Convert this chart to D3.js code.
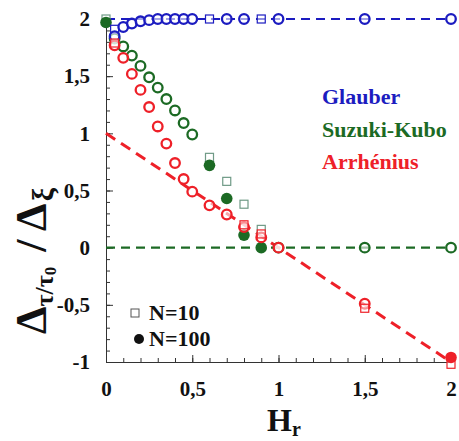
<!DOCTYPE html>
<html><head><meta charset="utf-8">
<script src="https://cdn.jsdelivr.net/npm/d3@7"></script>
<style>body{margin:0;background:#fff} svg{display:block}</style>
</head><body>
<script>
// ---- data ----
const xMajorTicks = [0, 0.5, 1, 1.5, 2];
const yMajorTicks = [-1, -0.5, 0, 0.5, 1, 1.5, 2];

const glauberCircX = [0.05,0.1,0.15,0.2,0.25,0.3,0.35,0.4,0.45,0.5,0.7,0.8,1.0,1.5,2.0];
const glauberCircY = [1.85,1.93,1.96,1.98,1.99,2,2,2,2,2,2,2,2,2,2];
const glauberSqX = [0.05,0.6,0.9];
const glauberSqY = [1.91,2,2];
const glauberLineX = [0,2];
const glauberLineY = [2,2];

const suzukiCircX = [0.05,0.1,0.15,0.2,0.25,0.3,0.35,0.4,0.45,0.5,1.0,1.5,2.0];
const suzukiCircY = [1.83,1.76,1.68,1.59,1.49,1.40,1.30,1.20,1.09,0.99,0,0,0];
const suzukiSqX = [0,0.05,0.6,0.7,0.8,0.9];
const suzukiSqY = [2.0,1.85,0.79,0.58,0.38,0.16];
const suzukiDotX = [0,0.6,0.7,0.8,0.9];
const suzukiDotY = [1.97,0.72,0.43,0.11,0.0];
const suzukiLineX = [0,2];
const suzukiLineY = [0,0];

const arrCircX = [0.05,0.1,0.15,0.2,0.25,0.3,0.35,0.4,0.45,0.5,0.6,0.7,0.8,0.9,1.0,1.5];
const arrCircY = [1.77,1.66,1.52,1.38,1.23,1.06,0.91,0.74,0.60,0.49,0.37,0.29,0.18,0.09,0.0,-0.49];
const arrSqX = [0.05,0.8,0.9,1.5,2.0];
const arrSqY = [1.79,0.2,0.12,-0.53,-1.02];
const arrDotX = [2.0];
const arrDotY = [-0.96];
const arrLineX = [0,2];
const arrLineY = [1,-1];

const seriesNames = ["Glauber","Suzuki-Kubo","Arrhénius"];
const legendN = ["N=10","N=100"];

// ---- styles ----
const BLUE = "#1c1cc0", GREEN = "#1c6a24", RED = "#ee2028";
const SQ_GREEN = "#6f9a86";
const FONT = "'Liberation Serif','Times New Roman',serif";

const W = 459, H = 441;
const svg = d3.select("body").append("svg").attr("width", W).attr("height", H)
  .style("font-family", FONT).style("font-weight", "bold");

const x = d3.scaleLinear().domain([0, 2]).range([106, 451]);
const y = d3.scaleLinear().domain([-1, 2]).range([362, 19]);

const zip = (a, b) => a.map((v, i) => [v, b[i]]);
const fmt = d => String(d).replace(".", ",");

// axes
const xMinor = d3.range(0, 2.0001, 0.1).map(v => +v.toFixed(2));
const yMinor = d3.range(-1, 2.0001, 0.1).map(v => +v.toFixed(2));

const gx = svg.append("g").attr("transform", `translate(0,${y(-1)})`);
gx.call(d3.axisBottom(x).tickValues(xMinor).tickSize(-4).tickFormat("").tickSizeOuter(0));
gx.append("g").call(d3.axisBottom(x).tickValues(xMajorTicks).tickSize(-7).tickSizeOuter(0).tickFormat(fmt).tickPadding(19));
gx.selectAll("path").attr("stroke", "#333");
gx.selectAll("line").attr("stroke", "#333");
gx.selectAll("text").attr("font-family", FONT).attr("font-weight", "bold").attr("font-size", 21).attr("fill", "#111");

const gy = svg.append("g").attr("transform", `translate(${x(0)},0)`);
gy.call(d3.axisLeft(y).tickValues(yMinor).tickSize(-4).tickFormat("").tickSizeOuter(0));
gy.append("g").call(d3.axisLeft(y).tickValues(yMajorTicks).tickSize(-7).tickSizeOuter(0).tickFormat(fmt).tickPadding(16));
gy.selectAll("path").attr("stroke", "#333");
gy.selectAll("line").attr("stroke", "#333");
gy.selectAll("text").attr("font-family", FONT).attr("font-weight", "bold").attr("font-size", 21).attr("fill", "#111");

// lines
const line = d3.line().x(d => x(d[0])).y(d => y(d[1]));
svg.append("path").attr("d", line(zip(suzukiLineX, suzukiLineY))).attr("fill", "none")
  .attr("stroke", GREEN).attr("stroke-width", 2.2).attr("stroke-dasharray", "9,6");
svg.append("path").attr("d", line(zip(glauberLineX, glauberLineY))).attr("fill", "none")
  .attr("stroke", BLUE).attr("stroke-width", 2).attr("stroke-dasharray", "9,6");
svg.append("path").attr("d", line(zip(arrLineX, arrLineY))).attr("fill", "none")
  .attr("stroke", RED).attr("stroke-width", 3).attr("stroke-dasharray", "11,7");

// markers
function circles(xs, ys, color) {
  svg.append("g").selectAll("circle").data(zip(xs, ys)).join("circle")
    .attr("cx", d => x(d[0])).attr("cy", d => y(d[1])).attr("r", 4.8)
    .attr("fill", "white").attr("fill-opacity", 0.6).attr("stroke", color).attr("stroke-width", 2.3);
}
function squares(xs, ys, color) {
  svg.append("g").selectAll("rect").data(zip(xs, ys)).join("rect")
    .attr("x", d => x(d[0]) - 4).attr("y", d => y(d[1]) - 4).attr("width", 8).attr("height", 8)
    .attr("fill", "white").attr("fill-opacity", 0.5).attr("stroke", color).attr("stroke-width", 1.2);
}
function dots(xs, ys, color) {
  svg.append("g").selectAll("circle").data(zip(xs, ys)).join("circle")
    .attr("cx", d => x(d[0])).attr("cy", d => y(d[1])).attr("r", 5.8).attr("fill", color);
}

squares(suzukiSqX, suzukiSqY, SQ_GREEN);
circles(suzukiCircX, suzukiCircY, GREEN);
dots(suzukiDotX, suzukiDotY, GREEN);
squares(glauberSqX, glauberSqY, BLUE);
circles(glauberCircX, glauberCircY, BLUE);
circles(arrCircX, arrCircY, RED);
squares(arrSqX, arrSqY, RED);
dots(arrDotX, arrDotY, RED);

// series legend
const legColors = [BLUE, GREEN, RED];
const legBase = [104, 137, 169];
seriesNames.forEach((n, i) => {
  svg.append("text").attr("x", 322).attr("y", legBase[i]).attr("font-size", 22)
    .attr("fill", legColors[i]).text(n);
});

// N legend
svg.append("rect").attr("x", 131).attr("y", 309).attr("width", 8).attr("height", 8)
  .attr("fill", "white").attr("stroke", "#555").attr("stroke-width", 1);
svg.append("text").attr("x", 149).attr("y", 320).attr("font-size", 22).attr("fill", "#111").text(legendN[0]);
svg.append("circle").attr("cx", 139).attr("cy", 339).attr("r", 5).attr("fill", "#111");
svg.append("text").attr("x", 149).attr("y", 346).attr("font-size", 22).attr("fill", "#111").text(legendN[1]);

// axis titles
const xt = svg.append("text").attr("x", 267).attr("y", 431).attr("font-size", 32).attr("fill", "#111");
xt.append("tspan").text("H");
xt.append("tspan").attr("font-size", 20).attr("dy", 5).text("r");

const yt = svg.append("text").attr("transform", "translate(46,334) rotate(-90)")
  .attr("font-size", 44).attr("fill", "#111");
yt.append("tspan").text("Δ");
yt.append("tspan").attr("font-size", 26).attr("dy", 7).text("τ/τ");
yt.append("tspan").attr("font-size", 17).attr("dy", 3).text("0");
yt.append("tspan").attr("dy", -10).attr("dx", 4).text(" / Δ");
yt.append("tspan").attr("font-size", 30).attr("dy", 7).attr("dx", 2).text("ξ");
</script>
</body></html>
